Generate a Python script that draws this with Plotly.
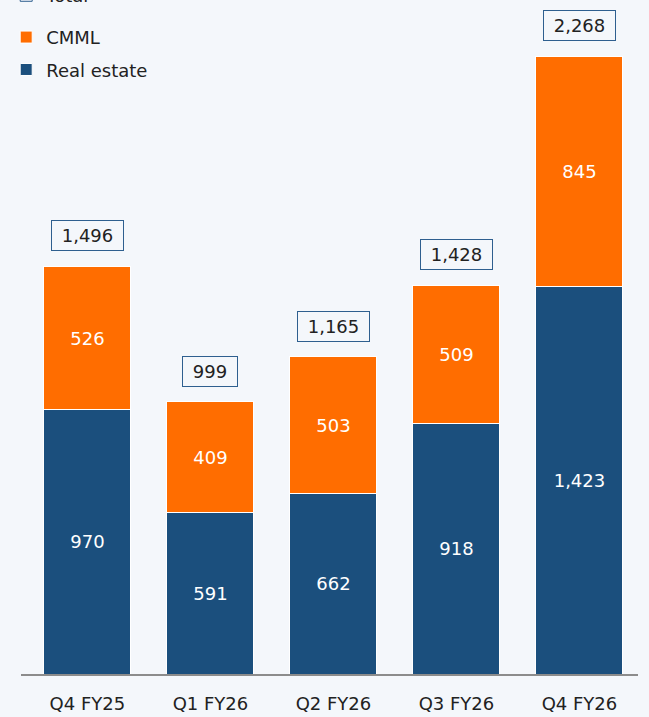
import plotly.graph_objects as go

quarters = ["Q4 FY25", "Q1 FY26", "Q2 FY26", "Q3 FY26", "Q4 FY26"]
real_estate = [970, 591, 662, 918, 1423]
cmml = [526, 409, 503, 509, 845]
totals = [1496, 999, 1165, 1428, 2268]

navy = "#1b4f7d"
orange = "#ff6d00"
bg = "#f4f7fb"
font = "DejaVu Sans"

fig = go.Figure()

fig.add_trace(go.Bar(
    x=quarters, y=real_estate, name="Real estate", legendgroup="re", legendrank=2,
    marker=dict(color=navy, line=dict(color="white", width=1)),
    texttemplate="%{y:,}", textposition="inside", insidetextanchor="middle",
    textfont=dict(color="white", size=18, family=font),
))
fig.add_trace(go.Bar(
    x=quarters, y=cmml, name="CMML", legendgroup="cm", legendrank=1,
    marker=dict(color=orange, line=dict(color="white", width=1)),
    texttemplate="%{y:,}", textposition="inside", insidetextanchor="middle",
    textfont=dict(color="white", size=18, family=font),
))
# legend entry only for the total boxes
fig.add_trace(go.Bar(
    x=[quarters[0]], y=[None], name="Total", legend="legend2",
    marker=dict(color=bg, line=dict(color="#2e5f8f", width=1)),
))

for q, t in zip(quarters, totals):
    fig.add_annotation(
        x=q, y=t, text=f" {t:,} ", showarrow=False, yanchor="bottom", yshift=15,
        font=dict(size=18, color="#222222", family=font),
        bordercolor="#2e5f8f", borderwidth=1, borderpad=4,
    )

fig.update_layout(
    barmode="stack",
    bargap=0.293,
    width=649, height=717,
    paper_bgcolor=bg, plot_bgcolor=bg,
    margin=dict(l=21, r=11, t=0, b=43, autoexpand=False),
    font=dict(family=font, size=18, color="#222222"),
    showlegend=True,
    legend=dict(
        x=-0.024, xanchor="left", y=0.972, yanchor="top",
        traceorder="grouped", tracegroupgap=6,
        bgcolor="rgba(0,0,0,0)", font=dict(size=18, family=font),
        itemwidth=30,
    ),
    legend2=dict(
        x=-0.024, xanchor="left", y=1.034, yanchor="top",
        bgcolor="rgba(0,0,0,0)", font=dict(size=18, family=font),
        itemwidth=30,
    ),
)
fig.update_xaxes(
    range=[-0.54, 4.476], showline=True, linecolor="#8c8c8c", linewidth=2,
    ticks="", tickfont=dict(size=18, color="#222222"), showgrid=False,
    ticklabelstandoff=12,
)
fig.update_yaxes(range=[0, 2473.5], visible=False, showgrid=False)

fig.write_html("out.html", config={"displayModeBar": False},
               post_script="document.body.style.margin='0';")
